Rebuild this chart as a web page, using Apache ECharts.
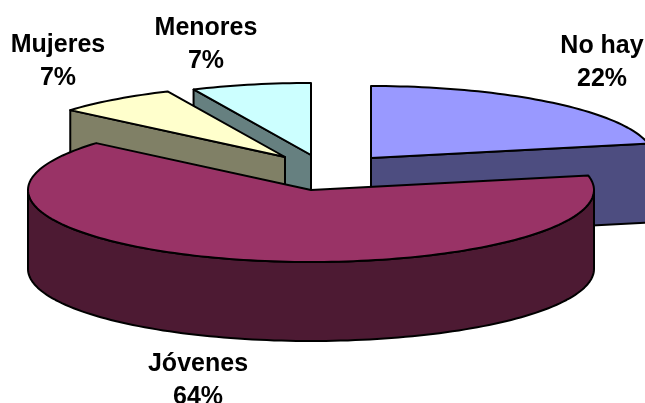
<!DOCTYPE html>
<html>
<head>
<meta charset="utf-8">
<style>html,body{margin:0;padding:0;background:#fff}#c{width:645px;height:403px}</style>
<script src="https://cdn.jsdelivr.net/npm/echarts@6/dist/echarts.min.js"></script>
</head>
<body>
<div id="c"></div>
<script>
var categories = ['No hay', 'Jóvenes', 'Mujeres', 'Menores'];
var values = [21.8, 64.49, 6.9, 6.81];
var topColors = ['#9999FF', '#993366', '#FFFFCC', '#CCFFFF'];
var sideColors = ['#4D4D80', '#4D1A33', '#808066', '#668080'];
var apexX = [371, 311, 285, 311];
var apexY = [158, 190, 157, 155];
var labelX = [602, 198, 58, 206];
var labelY = [63, 381, 62, 45];
var drawOrder = [0, 3, 2, 1];

var RX = 283, RY = 72, DEPTH = 79, STROKE = 2;
var total = values.reduce(function (a, b) { return a + b; }, 0);
var starts = [];
values.reduce(function (a, v, i) { starts[i] = a; return a + v; }, 0);

function rim(cx, cy, deg) {
  var t = deg * Math.PI / 180;
  return [cx + RX * Math.sin(t), cy - RY * Math.cos(t)];
}
function arc(cx, cy, from, to) {
  var pts = [], n = Math.max(2, Math.ceil(Math.abs(to - from) / 1.5));
  for (var k = 0; k <= n; k++) pts.push(rim(cx, cy, from + (to - from) * k / n));
  return pts;
}
function poly(points, fill) {
  return {
    type: 'polygon',
    shape: { points: points },
    style: { fill: fill, stroke: '#000', lineWidth: STROKE, lineJoin: 'round' }
  };
}
function wall(cx, cy, from, to, fill) {
  var upper = arc(cx, cy, from, to);
  var lower = arc(cx, cy + DEPTH, to, from);
  return poly(upper.concat(lower), fill);
}
function cutFace(cx, cy, p, fill) {
  return poly([[cx, cy], p, [p[0], p[1] + DEPTH], [cx, cy + DEPTH]], fill);
}
function renderItem(params, api) {
  var i = api.value(0);
  var cx = apexX[i], cy = apexY[i];
  var a0 = starts[i] / total * 360;
  var a1 = (starts[i] + values[i]) / total * 360;
  var kids = [];
  // a radial cut is seen only when its face turns toward the viewer
  if (a0 > 180) kids.push(cutFace(cx, cy, rim(cx, cy, a0), sideColors[i]));
  if (a1 < 180) kids.push(cutFace(cx, cy, rim(cx, cy, a1), sideColors[i]));
  // visible front part of the outer wall
  var f0 = Math.max(a0, 90), f1 = Math.min(a1, 270);
  if (f1 > f0) kids.push(wall(cx, cy, f0, f1, sideColors[i]));
  // top face
  kids.push(poly([[cx, cy]].concat(arc(cx, cy, a0, a1)), topColors[i]));
  return { type: 'group', children: kids };
}
function renderLabels(params, api) {
  var i = api.value(0);
  return {
    type: 'text',
    style: {
      x: labelX[i], y: labelY[i],
      text: categories[i] + '\n' + Math.round(values[i] / total * 100) + '%',
      fill: '#000',
      font: 'bold 25px "Liberation Sans", Arial, sans-serif',
      lineHeight: 33,
      align: 'center',
      verticalAlign: 'middle'
    }
  };
}
var chart = echarts.init(document.getElementById('c'), null, { renderer: 'canvas' });
chart.setOption({
  animation: false,
  backgroundColor: '#fff',
  series: [
    { type: 'custom', coordinateSystem: 'none', silent: true, renderItem: renderItem,
      data: drawOrder.map(function (i) { return [i]; }) },
    { type: 'custom', coordinateSystem: 'none', silent: true, renderItem: renderLabels, z: 5,
      data: categories.map(function (c, i) { return [i]; }) }
  ]
});
</script>
</body>
</html>
